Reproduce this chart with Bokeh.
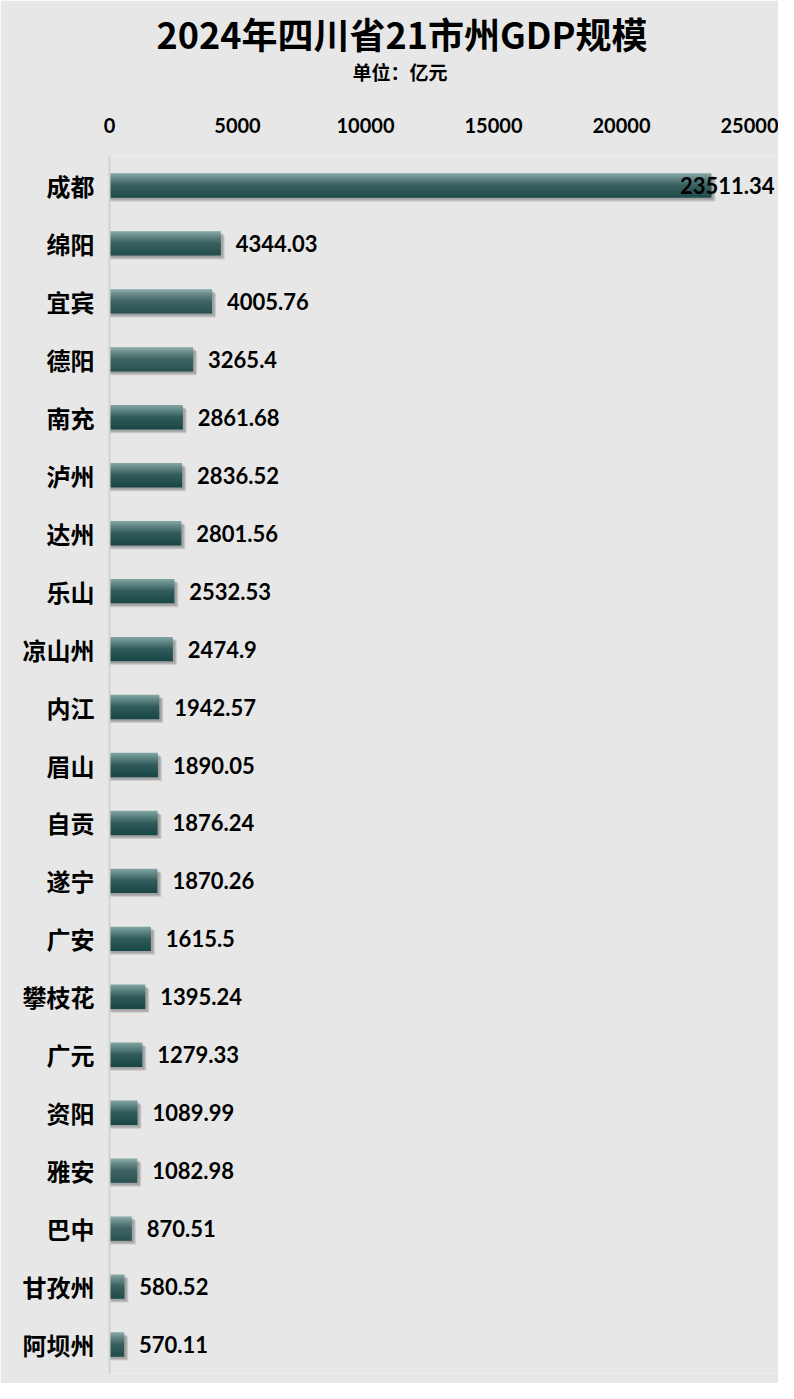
from bokeh.plotting import figure
from bokeh.models import (FactorRange, Range1d, ColumnDataSource, Title, FixedTicker,
                          CDSView, BooleanFilter)
from bokeh.transform import dodge
from bokeh.core.properties import value
from bokeh.embed import file_html
from bokeh.resources import INLINE

# ---------------- data ----------------
cities = ["成都", "绵阳", "宜宾", "德阳", "南充", "泸州", "达州", "乐山", "凉山州", "内江",
          "眉山", "自贡", "遂宁", "广安", "攀枝花", "广元", "资阳", "雅安", "巴中", "甘孜州", "阿坝州"]
gdp = [23511.34, 4344.03, 4005.76, 3265.4, 2861.68, 2836.52, 2801.56, 2532.53, 2474.9, 1942.57,
       1890.05, 1876.24, 1870.26, 1615.5, 1395.24, 1279.33, 1089.99, 1082.98, 870.51, 580.52, 570.11]
x_ticks = [0, 5000, 10000, 15000, 20000, 25000]
title_text = "2024年四川省21市州GDP规模"
subtitle_text = "单位：亿元"

# ---------------- style ----------------
W, H = 778, 1383
BG = "#e7e7e7"
FRAME_L, FRAME_R = 109, 1
FRAME_W = W - FRAME_L - FRAME_R
PX_PER_UNIT = 0.0256
X_END = FRAME_W / PX_PER_UNIT
BAND_PX = 57.95
BAR_H = 0.414
CJK = "Noto Sans CJK SC"
NUM = "Lato"

labels = [str(v) for v in gdp]
src = ColumnDataSource(dict(city=cities, gdp=gdp, label=labels))

p = figure(width=W, height=H, title=None,
           y_range=FactorRange(factors=cities[::-1]),
           x_range=Range1d(0, X_END),
           x_axis_location="above",
           output_backend="svg", toolbar_location=None,
           min_border_left=FRAME_L, min_border_right=FRAME_R,
           min_border_top=0, min_border_bottom=10,
           background_fill_color=BG, border_fill_color=BG,
           outline_line_color=None)
p.grid.visible = False

# shadow
for dpx, a in [(4, 0.25), (3, 0.3), (2, 0.3)]:
    p.hbar(y=dodge("city", -dpx / BAND_PX, range=p.y_range),
           right=dodge("gdp", dpx / PX_PER_UNIT, range=p.x_range), left=0,
           height=BAR_H, source=src, fill_color="#7a7a7a", fill_alpha=a, line_color=None)

# gradient bar built from thin horizontal strips
stops = [(0.0, (130, 166, 163)), (0.5, (50, 92, 92)), (1.0, (24, 70, 70))]
def col(t):
    for (t0, c0), (t1, c1) in zip(stops[:-1], stops[1:]):
        if t <= t1:
            f = (t - t0) / (t1 - t0)
            return "#%02x%02x%02x" % tuple(int(round(a + (b - a) * f)) for a, b in zip(c0, c1))
    return "#%02x%02x%02x" % stops[-1][1]

N = 24
sh = BAR_H / N
for i in range(N):
    t = (i + 0.5) / N
    off = BAR_H / 2 - (i + 0.5) * sh
    p.hbar(y=dodge("city", off, range=p.y_range), right="gdp", left=0,
           height=sh * 1.4, source=src, fill_color=col(t), line_color=None)

# value labels
est_w = [len(s) * 0.56 * 22 for s in labels]
normal = [v * PX_PER_UNIT + 15 + w < FRAME_W for v, w in zip(gdp, est_w)]
over = [not n for n in normal]
p.text(x="gdp", y="city", text="label", source=src, view=CDSView(filter=BooleanFilter(normal)),
       x_offset=15, text_align="left", text_baseline="middle",
       text_font=value(NUM), text_font_size="22px", text_font_style="bold", text_color="black")
p.text(x=X_END, y="city", text="label", source=src, view=CDSView(filter=BooleanFilter(over)),
       x_offset=-3, text_align="right", text_baseline="middle",
       text_font=value(NUM), text_font_size="22px", text_font_style="bold", text_color="black")

# axes
xa = p.xaxis[0]
xa.ticker = FixedTicker(ticks=x_ticks)
xa.axis_line_color = None
xa.major_tick_line_color = None
xa.minor_tick_line_color = None
xa.major_tick_out = 0
xa.major_tick_in = 0
xa.minor_tick_out = 0
xa.major_label_standoff = 24
xa.major_label_text_font = NUM
xa.major_label_text_font_size = "20px"
xa.major_label_text_font_style = "bold"
xa.major_label_text_color = "black"
xa.axis_label = " "          # empty spacer between tick labels and the subtitle
xa.axis_label_standoff = 21
xa.axis_label_text_font_size = "12px"

ya = p.yaxis[0]
ya.axis_line_color = "#d2d2d2"
ya.axis_line_width = 2
ya.major_tick_line_color = None
ya.minor_tick_line_color = None
ya.major_tick_out = 0
ya.major_tick_in = 0
ya.major_label_standoff = 15
ya.major_label_text_font = CJK
ya.major_label_text_font_size = "24px"
ya.major_label_text_font_style = "bold"
ya.major_label_text_color = "black"

# titles (left aligned, shifted so they sit centred on the page)
p.add_layout(Title(text=subtitle_text, align="left", offset=243, standoff=-16,
                   text_font=CJK, text_font_size="19px", text_font_style="bold",
                   text_color="black"), "above")
p.add_layout(Title(text=title_text, align="left", offset=47, standoff=9,
                   text_font=CJK, text_font_size="36px", text_font_style="bold",
                   text_color="black"), "above")

open("out.html", "w").write(file_html(p, INLINE))
